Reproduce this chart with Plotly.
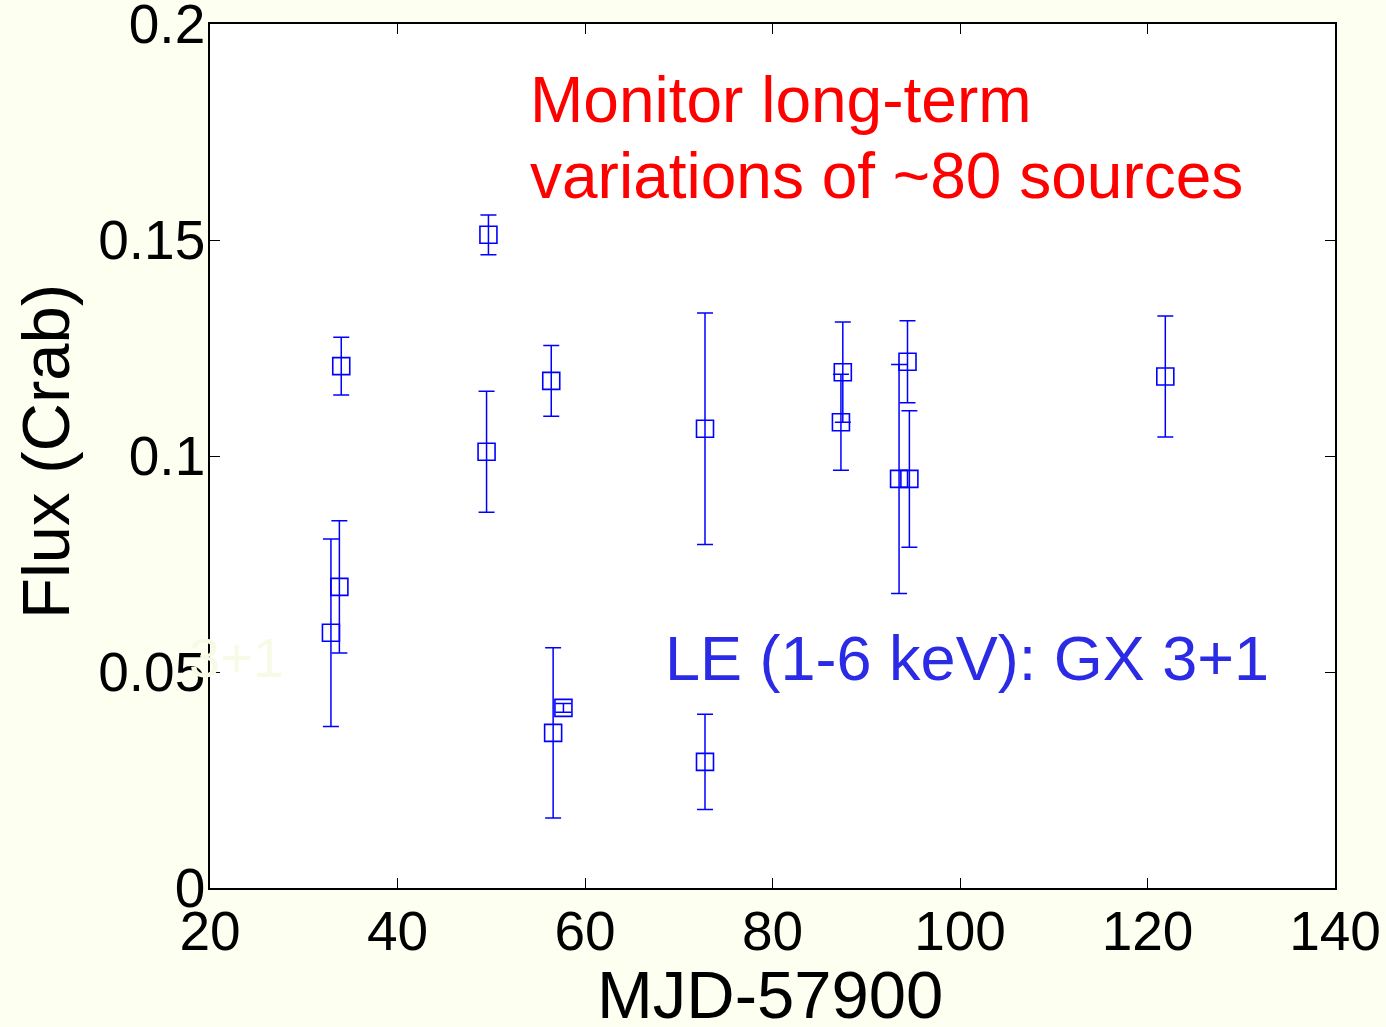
import plotly.graph_objects as go

# LE (1-6 keV) light curve of GX 3+1: time (MJD-57900), flux (Crab) and 1-sigma errors
mjd = [32.9, 33.8, 34.0, 49.5, 49.7, 56.4, 56.6, 57.7, 72.8, 72.8,
       87.5, 87.3, 94.4, 93.5, 94.6, 121.9]
flux = [0.0591, 0.0697, 0.1208, 0.1010, 0.1512, 0.1174, 0.0359, 0.0417, 0.1063, 0.0292,
        0.1194, 0.1078, 0.1218, 0.0947, 0.0947, 0.1184]
flux_err = [0.0217, 0.0153, 0.0067, 0.0140, 0.0046, 0.0082, 0.0197, 0.0010, 0.0268, 0.0110,
            0.0116, 0.0111, 0.0095, 0.0265, 0.0158, 0.0140]

x_ticks = [20, 40, 60, 80, 100, 120, 140]
y_ticks = [0, 0.05, 0.1, 0.15, 0.2]
y_tick_text = ["0", "0.05", "0.1", "0.15", "0.2"]

BG = "#FDFFF0"
BLUE = "#0000FF"
FONT = "Liberation Sans, Arial, sans-serif"

W, H = 1386, 1027
ML, MR, MT, MB = 210, 51, 24, 139
pw, ph = W - ML - MR, H - MT - MB


def px_x(px):
    """Horizontal pixel -> paper fraction."""
    return (px - ML) / pw


def px_y(py):
    """Vertical pixel (from top) -> paper fraction."""
    return (H - MB - py) / ph


fig = go.Figure()
fig.add_trace(go.Scatter(
    x=mjd, y=flux, mode="markers",
    marker=dict(symbol="square-open", size=17, color=BLUE, line=dict(width=1.6, color=BLUE)),
    error_y=dict(type="data", array=flux_err, visible=True, color=BLUE, thickness=1.5, width=8),
    showlegend=False,
))

axis_common = dict(
    showgrid=False, zeroline=False, showline=True, linecolor="black", linewidth=1.5,
    mirror="ticks", ticks="inside", ticklen=10, tickwidth=1.2, tickcolor="black",
    tickfont=dict(family=FONT, size=55, color="black"), ticklabeloverflow="allow",
    automargin=False,
)

fig.update_xaxes(range=[20, 140], tickvals=x_ticks, ticktext=[str(v) for v in x_ticks],
                 ticklabelstandoff=-6, **axis_common)
fig.update_yaxes(range=[0, 0.2], tickvals=y_ticks, ticktext=y_tick_text,
                 ticklabelstandoff=-8, **axis_common)

annotations = [
    dict(text="MJD-57900", x=px_x(770), y=px_y(994), xref="paper", yref="paper",
         xanchor="center", yanchor="middle", showarrow=False,
         font=dict(family=FONT, size=67, color="black")),
    dict(text="Flux (Crab)", x=px_x(45), y=px_y(452), xref="paper", yref="paper",
         xanchor="center", yanchor="middle", textangle=-90, showarrow=False,
         font=dict(family=FONT, size=67, color="black")),
    dict(text="Monitor long-term", x=px_x(528), y=px_y(100),
         xref="paper", yref="paper", xanchor="left", yanchor="middle",
         showarrow=False, font=dict(family=FONT, size=64, color="#FF0000")),
    dict(text="variations of ~80 sources", x=px_x(528), y=px_y(176),
         xref="paper", yref="paper", xanchor="left", yanchor="middle",
         showarrow=False, font=dict(family=FONT, size=64, color="#FF0000")),
    dict(text="LE (1-6 keV): GX 3+1", x=px_x(663), y=px_y(658), xref="paper", yref="paper",
         xanchor="left", yanchor="middle", showarrow=False,
         font=dict(family=FONT, size=63, color="#2B2BE6")),
    # faint leftover label sitting next to the y axis
    dict(text="3+1", x=px_x(286), y=px_y(657), xref="paper", yref="paper",
         xanchor="right", yanchor="middle", showarrow=False,
         font=dict(family=FONT, size=56, color="#F8FAE8")),
]

fig.update_layout(
    width=W, height=H,
    margin=dict(l=ML, r=MR, t=MT, b=MB),
    paper_bgcolor=BG, plot_bgcolor="white",
    annotations=annotations,
)

fig.write_html("out.html")
